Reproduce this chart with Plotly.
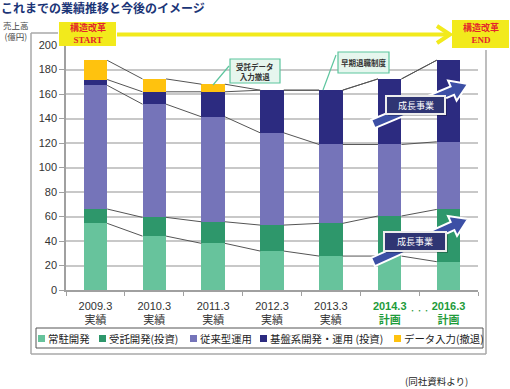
import math
import plotly.graph_objects as go

# ---------------- data ----------------
categories = ["2009.3", "2010.3", "2011.3", "2012.3", "2013.3", "2014.3", "2016.3"]
status = ["実績", "実績", "実績", "実績", "実績", "計画", "計画"]
series_names = ["常駐開発", "受託開発(投資)", "従来型運用", "基盤系開発・運用 (投資)", "データ入力(撤退)"]
jouchuu = [54.4, 44.0, 38.1, 31.8, 27.7, 27.7, 23.1]
jutaku = [11.7, 15.3, 17.6, 21.2, 26.7, 32.7, 42.7]
juurai = [101.0, 92.4, 85.7, 75.3, 64.4, 58.4, 55.2]
kiban = [4.7, 10.1, 20.4, 34.8, 44.3, 53.5, 66.6]
data_input = [15.7, 10.5, 6.2, 0, 0, 0, 0]
y_ticks = [0, 20, 40, 60, 80, 100, 120, 140, 160, 180, 200]

series_values = [jouchuu, jutaku, juurai, kiban, data_input]
colors = ["#67C39C", "#2E976B", "#7574B9", "#2C2B80", "#FFC20E"]

# ---------------- layout geometry (pixels) ----------------
W, H = 510, 389
L, R, T, B = 66, 478, 45, 290
BAR_W = 0.4


def PX(x):
    return (x - L) / (R - L)


def PY(y):
    return (B - y) / (B - T)


JP = "Noto Sans CJK JP"
SANS = "Liberation Sans, Arial, Noto Sans CJK JP"

fig = go.Figure()
xs = list(range(len(categories)))
for name, vals, col in zip(series_names, series_values, colors):
    fig.add_trace(go.Bar(x=xs, y=vals, name=name, marker=dict(color=col, line=dict(width=0)),
                         width=BAR_W, showlegend=False))

# series lines between consecutive bars at each cumulative boundary
cum = [0.0] * len(categories)
for vals in series_values:
    cum = [c + v for c, v in zip(cum, vals)]
    lx, ly = [], []
    for i in range(len(categories) - 1):
        lx += [xs[i] + BAR_W / 2, xs[i + 1] - BAR_W / 2, None]
        ly += [cum[i], cum[i + 1], None]
    fig.add_trace(go.Scatter(x=lx, y=ly, mode="lines", line=dict(color="#555555", width=1),
                             showlegend=False, hoverinfo="skip"))

# tick labels
green = "#1E9B3A"
ticktext = []
for c, s in zip(categories, status):
    if s == "計画":
        ticktext.append(f"<b><span style='color:{green}'>{c}</span></b><br><b><span style='color:{green}'>{s}</span></b>")
    else:
        ticktext.append(f"{c}<br>{s}")

shapes = []
annotations = []


def note(x, y, text, font, xanchor="center", yanchor="middle"):
    annotations.append(dict(xref="paper", yref="paper", x=PX(x), y=PY(y), text=text, showarrow=False,
                            xanchor=xanchor, yanchor=yanchor, font=font, borderpad=0))


def rect(x0, y0, x1, y1, fill, line_color=None, lw=0):
    shapes.append(dict(type="rect", xref="paper", yref="paper", x0=PX(x0), y0=PY(y1), x1=PX(x1), y1=PY(y0),
                       fillcolor=fill, line=dict(color=line_color or fill, width=lw), layer="above"))


def seg(x0, y0, x1, y1, color, lw):
    shapes.append(dict(type="line", xref="paper", yref="paper", x0=PX(x0), y0=PY(y0), x1=PX(x1), y1=PY(y1),
                       line=dict(color=color, width=lw), layer="above"))


# outer frame
fc = "#A8A8A8"
for (x0, y0, x1, y1) in [(31, 33, 31, 354), (31, 354, 486, 354), (486, 50, 486, 354), (31, 33, 58, 33)]:
    seg(x0, y0, x1, y1, fc, 1.5)

# yellow arrow START -> END
ycol = "#F2EA1C"
seg(117, 34.5, 448, 34.5, ycol, 4)
shapes.append(dict(type="path", xref="paper", yref="paper",
                   path=f"M {PX(437)},{PY(26)} L {PX(450)},{PY(34.5)} L {PX(437)},{PY(43)}",
                   line=dict(color=ycol, width=4), layer="above"))
# START / END boxes
for (x0, y0, x1, y1, txt) in [(59, 22, 116, 46, "構造改革<br>START"), (452, 20, 509, 48, "構造改革<br>END")]:
    rect(x0, y0, x1, y1, ycol)
    note((x0 + x1) / 2, (y0 + y1) / 2, f"<b>{txt}</b>",
         dict(family="Liberation Serif, Noto Sans CJK JP", size=9, color="#E3262B"))

# callouts
mint_fill, mint_line = "#E6F6EE", "#5DC59E"
seg(229, 66, 213, 85, mint_line, 1.2)
seg(336, 55, 323, 90, mint_line, 1.2)
for (x0, y0, x1, y1, txt) in [(230, 59, 280, 83, "受託データ<br>入力撤退"), (338, 52, 389, 73, "早期退職制度")]:
    rect(x0, y0, x1, y1, mint_fill, mint_line, 1.2)
    note((x0 + x1) / 2, (y0 + y1) / 2, f"<b>{txt}</b>", dict(family=JP, size=7.5, color="#333333"))


def fat_arrow(tx, ty, hx, hy, w=4.5, h=11, hl=17):
    dx, dy = hx - tx, hy - ty
    n = math.hypot(dx, dy)
    ux, uy = dx / n, dy / n
    nx, ny = -uy, ux
    bx, by = hx - ux * hl, hy - uy * hl
    pts = [(tx + nx * w, ty + ny * w), (bx + nx * w, by + ny * w), (bx + nx * h, by + ny * h), (hx, hy),
           (bx - nx * h, by - ny * h), (bx - nx * w, by - ny * w), (tx - nx * w, ty - ny * w)]
    return "M " + " L ".join(f"{PX(px)},{PY(py)}" for px, py in pts) + " Z"


for (tx, ty, hx, hy, bx0, by0, bx1, by1) in [(373, 124, 468, 84, 386, 96, 445, 114),
                                              (373, 262, 468, 219, 384, 232, 446, 251)]:
    shapes.append(dict(type="path", xref="paper", yref="paper", path=fat_arrow(tx, ty, hx, hy),
                       fillcolor="#3C4FA5", line=dict(color="white", width=2), layer="above"))
    rect(bx0 + 2, by0 + 2, bx1 + 2, by1 + 2, "rgba(0,0,0,0.25)")
    rect(bx0, by0, bx1, by1, "#2F3573", "#EDEDED", 2)
    note((bx0 + bx1) / 2, (by0 + by1) / 2, "成長事業", dict(family=JP, size=9, color="white"))

# dots between 2014.3 and 2016.3
annotations.append(dict(xref="x", yref="paper", x=5.5, y=PY(310), text="・・・", showarrow=False,
                        xanchor="center", yanchor="middle", font=dict(family=JP, size=7, color=green)))

# legend (manual)
rect(36, 328, 483, 348, "white", "#555555", 1)
sq_x = [37, 98, 189, 259, 393]
for sx, name, col in zip(sq_x, series_names, colors):
    rect(sx + 1, 335, sx + 8, 342, col)
    note(sx + 10, 338.5, name, dict(family=JP, size=10.4, color="#222222"), xanchor="left")

# title, axis unit, source
note(0, 8, "<b>これまでの業績推移と今後のイメージ</b>", dict(family=JP, size=12, color="#1B3577"), xanchor="left")
note(16, 31, "売上高<br>(億円)", dict(family=JP, size=8.5, color="#444444"))
note(436, 381, "(同社資料より)", dict(family=JP, size=9.5, color="#222222"))

axis_col = "#A0A0A0"
fig.update_layout(
    width=W, height=H,
    margin=dict(l=L, r=W - R, t=T, b=H - B, pad=0),
    paper_bgcolor="white", plot_bgcolor="white",
    barmode="stack", showlegend=False,
    font=dict(family=SANS, size=11, color="#333333"),
    xaxis=dict(range=[-0.5, len(categories) - 0.5], tickmode="array", tickvals=xs, ticktext=ticktext,
               ticks="", showgrid=False, showline=True, linecolor=axis_col, linewidth=1.5, zeroline=False,
               ticklabelstandoff=5,
               tickfont=dict(family=SANS, size=11, color="#333333"),
               minor=dict(tickmode="array", tickvals=[i - 0.5 for i in range(len(categories) + 1)],
                          ticks="outside", ticklen=4, tickcolor=axis_col, tickwidth=1, showgrid=False)),
    yaxis=dict(range=[0, 200], tickmode="array", tickvals=y_ticks, ticks="outside", ticklen=5,
               tickcolor=axis_col, showline=True, linecolor=axis_col, linewidth=1.5, showgrid=True,
               gridcolor="#C8C8C8", gridwidth=1.5, zeroline=False,
               tickfont=dict(family=SANS, size=11, color="#333333")),
    shapes=shapes, annotations=annotations,
)

fig.write_html("out.html", config={"displayModeBar": False},
               post_script="document.body.style.margin='0';document.body.style.padding='0';"
                           "document.documentElement.style.overflow='hidden';")
